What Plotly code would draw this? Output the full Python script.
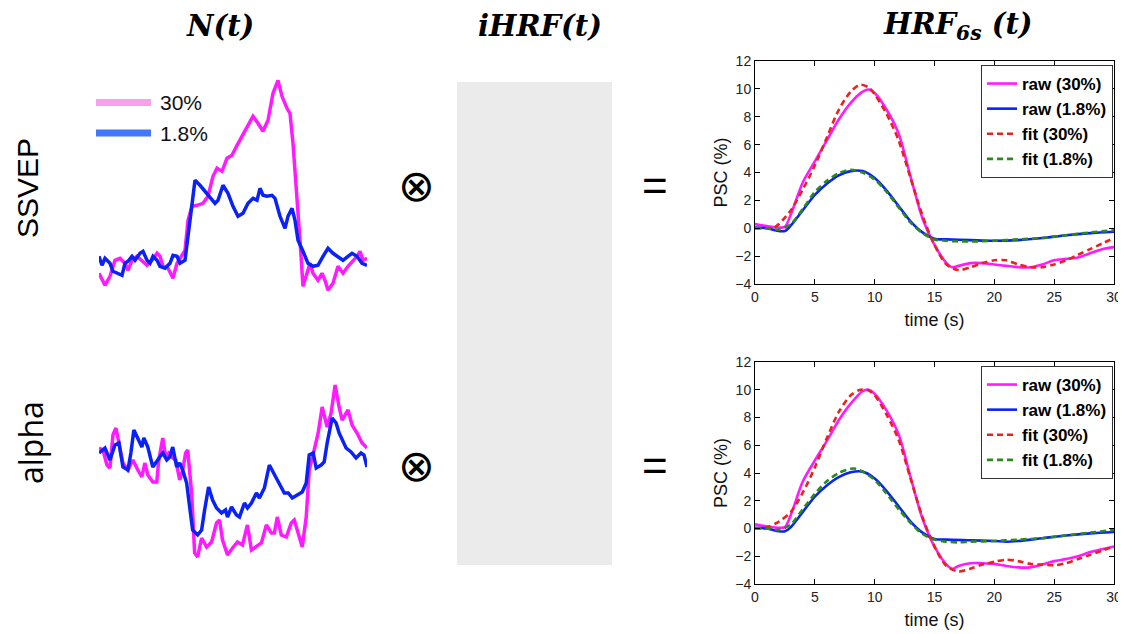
import plotly.graph_objects as go

W, H = 1126, 634

# ---------------- N(t) traces (relative amplitude, a.u.) ----------------
ssvep_t_30 = [0, 6, 11, 16, 21, 26, 29, 33, 38, 43, 48, 53, 58, 61, 64, 69, 74, 78, 83, 86, 89, 93, 98, 104,
              109, 114, 118, 123, 128, 133, 138, 143, 149, 154, 159, 164, 169, 174, 179, 183, 188, 191, 194,
              198, 201, 204, 208, 211, 214, 219, 223, 226, 229, 234, 239, 244, 249, 254, 258, 261, 264, 268]
ssvep_a_30 = [20, 8, 17, 33, 35, 30, 23, 33, 37, 32, 28, 33, 40, 37, 27, 25, 15, 30, 38, 43, 73, 87, 88, 90,
              97, 117, 125, 122, 135, 138, 148, 157, 167, 177, 170, 162, 173, 200, 213, 197, 185, 180, 150,
              100, 53, 7, 20, 30, 20, 13, 20, 13, 3, 10, 27, 20, 27, 33, 37, 42, 33, 35]
ssvep_t_18 = [0, 3, 6, 11, 14, 19, 23, 26, 29, 33, 36, 41, 44, 48, 51, 54, 58, 61, 66, 71, 74, 78, 81, 86,
              89, 93, 96, 101, 106, 111, 116, 119, 124, 129, 134, 139, 144, 149, 154, 158, 161, 164, 168,
              173, 176, 181, 186, 189, 193, 196, 199, 204, 209, 214, 219, 224, 229, 234, 239, 244, 249,
              253, 258, 263, 268]
ssvep_a_18 = [37, 28, 35, 30, 22, 20, 18, 30, 32, 37, 33, 40, 42, 33, 30, 37, 33, 27, 25, 30, 38, 37, 30, 33,
              57, 93, 113, 108, 102, 95, 90, 93, 108, 100, 87, 77, 80, 90, 95, 93, 105, 98, 97,
              98, 95, 77, 65, 77, 85, 73, 53, 42, 30, 27, 28, 37, 45, 40, 37, 33, 37,
              40, 37, 30, 28]

alpha_t_30 = [0, 4, 8, 11, 14, 17, 20, 24, 29, 34, 39, 43, 46, 49, 54, 58, 60, 64, 67, 70, 74, 77, 81, 84,
              87, 89, 93, 96, 99, 103, 108, 113, 118, 121, 124, 129, 134, 139, 144, 149, 153, 158, 163,
              168, 173, 176, 179, 183, 188, 193, 196, 199, 204, 208, 211, 216, 220, 224, 229, 233, 237,
              241, 244, 250, 254, 259, 264, 269]
alpha_a_30 = [112, 110, 95, 92, 125, 132, 117, 97, 90, 100, 90, 83, 97, 85, 78, 78, 100, 122, 103, 107, 102,
              100, 80, 90, 107, 110, 67, 7, 3, 22, 13, 18, 37, 40, 20, 5, 12, 18, 15, 35, 10, 13, 17,
              35, 27, 27, 43, 25, 23, 37, 40, 30, 13, 43, 90, 110, 127, 153, 133, 147, 175,
              153, 140, 150, 135, 127, 117, 112]
alpha_t_18 = [0, 6, 11, 16, 20, 24, 29, 32, 35, 39, 43, 45, 49, 54, 58, 61, 64, 68, 71, 74, 78, 81, 84, 88,
              91, 94, 99, 103, 106, 110, 114, 118, 123, 127, 129, 133, 138, 141, 146, 149, 153, 158, 161,
              166, 171, 174, 179, 186, 190, 194, 199, 204, 208, 211, 215, 218, 223, 226, 229, 234, 238,
              241, 248, 253, 258, 263, 266, 269]
alpha_a_18 = [107, 112, 100, 115, 117, 93, 90, 107, 130, 122, 113, 122, 113, 93, 98, 103, 107, 100, 103, 113,
              93, 97, 90, 77, 53, 30, 25, 30, 50, 73, 60, 52, 47, 50, 43, 53, 45, 43, 57, 52, 57, 67, 62,
              72, 95, 90, 80, 67, 67, 62, 65, 68, 77, 105, 107, 92, 95, 98, 117, 142, 137,
              127, 112, 108, 102, 107, 105, 93]

# ---------------- HRF_6s curves (PSC %, time s) ----------------
top_raw30_t = [0, 1, 2, 2.5, 3, 4, 5, 6, 7, 8, 9, 9.5, 10, 11, 12, 13, 14, 15, 16, 16.5, 17, 18, 19, 20, 21,
               22, 23, 24, 25, 26, 27, 28, 29, 30]
top_raw30_y = [0.3, 0.15, 0.05, 0.1, 1.0, 3.3, 4.8, 6.3, 7.8, 9.0, 9.8, 9.95, 9.7, 8.5, 6.8, 3.7, 0.7, -1.2,
               -2.5, -2.8, -2.7, -2.5, -2.5, -2.6, -2.7, -2.8, -2.8, -2.6, -2.3, -2.2, -2.1, -1.8, -1.5, -1.35]
top_fit30_t = [0, 1, 1.5, 2, 3, 4, 5, 6, 7, 8, 8.8, 9.5, 10, 11, 12, 13, 14, 15, 16, 17, 18, 19, 20, 21, 22,
               23, 24, 25, 26, 27, 28, 29, 30]
top_fit30_y = [0, 0, 0, 0.3, 1.3, 2.8, 4.5, 6.5, 8.5, 9.8, 10.3, 10.1, 9.6, 8.2, 6.3, 3.6, 0.9, -1.2, -2.6,
               -3.0, -2.8, -2.5, -2.3, -2.3, -2.6, -2.8, -2.8, -2.6, -2.3, -1.9, -1.5, -1.1, -0.7]
top_raw18_t = [0, 1, 2, 2.5, 3, 4, 5, 6, 7, 8, 9, 10, 11, 12, 13, 14, 15, 16, 18, 20, 22, 24, 26, 28, 30]
top_raw18_y = [0.05, 0.0, -0.2, -0.2, 0.2, 1.3, 2.4, 3.2, 3.8, 4.1, 4.1, 3.6, 2.7, 1.6, 0.5, -0.3, -0.75,
               -0.8, -0.85, -0.9, -0.85, -0.7, -0.5, -0.35, -0.25]
top_fit18_t = [0, 1, 2, 3, 4, 5, 6, 7, 8, 9, 10, 11, 12, 13, 14, 15, 16, 18, 20, 22, 24, 26, 28, 30]
top_fit18_y = [0, 0, -0.1, 0.3, 1.4, 2.6, 3.4, 3.95, 4.2, 4.0, 3.5, 2.6, 1.5, 0.4, -0.35, -0.8, -0.9, -0.95,
               -0.9, -0.8, -0.7, -0.5, -0.3, -0.15]

bot_raw30_t = top_raw30_t
bot_raw30_y = [0.3, 0.15, 0.05, 0.1, 1.0, 3.4, 4.9, 6.3, 7.8, 9.0, 9.9, 10.0, 9.7, 8.5, 6.8, 3.7, 0.7, -1.3,
               -2.6, -2.9, -2.7, -2.5, -2.5, -2.55, -2.7, -2.8, -2.8, -2.6, -2.35, -2.2, -2.0, -1.7, -1.5, -1.3]
bot_fit30_t = [0, 1, 2, 3, 4, 5, 6, 7, 8, 8.8, 9.5, 10, 11, 12, 13, 14, 15, 16, 17, 18, 19, 20, 21, 22, 23,
               24, 25, 26, 27, 28, 29, 30]
bot_fit30_y = [0, 0.1, 0.5, 1.2, 2.6, 4.4, 6.5, 8.4, 9.6, 10.0, 9.95, 9.6, 8.2, 6.4, 3.6, 0.8, -1.3, -2.7,
               -3.1, -2.9, -2.6, -2.4, -2.25, -2.35, -2.55, -2.6, -2.65, -2.5, -2.2, -1.9, -1.6, -1.3]
bot_raw18_t = [0, 1, 2, 2.5, 3, 4, 5, 6, 7, 8, 9, 10, 11, 12, 13, 14, 15, 16, 18, 20, 21, 22, 24, 26, 28, 30]
bot_raw18_y = [0.05, 0, -0.2, -0.2, 0.1, 1.2, 2.3, 3.1, 3.7, 4.05, 4.1, 3.6, 2.7, 1.6, 0.5, -0.3, -0.75,
               -0.8, -0.85, -0.9, -0.95, -0.9, -0.7, -0.5, -0.35, -0.25]
bot_fit18_t = [0, 1, 2, 3, 4, 5, 6, 7, 8, 8.5, 9, 10, 11, 12, 13, 14, 15, 16, 17, 18, 20, 22, 24, 26, 28, 30]
bot_fit18_y = [0, 0, -0.1, 0.3, 1.4, 2.5, 3.4, 4.0, 4.3, 4.3, 4.1, 3.5, 2.5, 1.4, 0.4, -0.4, -0.8, -0.95,
               -1.0, -0.95, -0.9, -0.8, -0.7, -0.5, -0.3, -0.1]

x_ticks = [0, 5, 10, 15, 20, 25, 30]
y_ticks = [-4, -2, 0, 2, 4, 6, 8, 10, 12]
legend_names = ["raw (30%)", "raw (1.8%)", "fit (30%)", "fit (1.8%)"]
n_legend_labels = ["30%", "1.8%"]
col_titles = ["<b><i>N(t)</i></b>", "<b><i>iHRF(t)</i></b>", "<b><i>HRF<sub>6s</sub> (t)</i></b>"]
row_labels = ["SSVEP", "alpha"]

MAG, BLU, RED, GRN = "#ff1aff", "#0a22f5", "#e8231a", "#2a8a1c"

OFF = 8  # page body margin in the browser


def px(x):
    return (x - OFF) / W


def py(y):
    return 1 - (y - OFF) / H


fig = go.Figure()

# N(t) panels
for t, a, c, ax in [(ssvep_t_30, ssvep_a_30, MAG, ""), (ssvep_t_18, ssvep_a_18, BLU, ""),
                    (alpha_t_30, alpha_a_30, MAG, "2"), (alpha_t_18, alpha_a_18, BLU, "2")]:
    fig.add_trace(go.Scatter(x=t, y=a, mode="lines", line=dict(color=c, width=3.5),
                             xaxis="x" + ax, yaxis="y" + ax, showlegend=False, hoverinfo="skip"))

# HRF panels
hrf_sets = [
    ("3", "legend", [(top_raw30_t, top_raw30_y), (top_raw18_t, top_raw18_y),
                     (top_fit30_t, top_fit30_y), (top_fit18_t, top_fit18_y)]),
    ("4", "legend2", [(bot_raw30_t, bot_raw30_y), (bot_raw18_t, bot_raw18_y),
                      (bot_fit30_t, bot_fit30_y), (bot_fit18_t, bot_fit18_y)]),
]
styles = [(MAG, "solid"), (BLU, "solid"), (RED, "6px,4px"), (GRN, "6px,4px")]
for ax, leg, series in hrf_sets:
    for i, ((t, y), (c, d)) in enumerate(zip(series, styles)):
        fig.add_trace(go.Scatter(x=t, y=y, mode="lines", name=legend_names[i],
                                 line=dict(color=c, width=2.6, dash=d, shape="spline", smoothing=0.8),
                                 xaxis="x" + ax, yaxis="y" + ax, legend=leg))

hidden = dict(visible=False, showgrid=False, zeroline=False, fixedrange=True)
axfont = dict(family="Liberation Sans, Arial, sans-serif", size=14, color="#222")
titlefont = dict(family="Liberation Sans, Arial, sans-serif", size=18, color="#111")


def hrf_x(dom, anchor):
    return dict(domain=dom, anchor=anchor, range=[0, 30], tickvals=x_ticks, ticks="inside", ticklen=5,
                tickcolor="black", showline=True, linecolor="black", linewidth=1, mirror="ticks",
                showgrid=False, zeroline=False, tickfont=axfont, automargin=False,
                title=dict(text="time (s)", font=titlefont, standoff=9))


def hrf_y(dom, anchor):
    return dict(domain=dom, anchor=anchor, range=[-4, 12], tickvals=y_ticks, ticks="inside", ticklen=5,
                tickcolor="black", showline=True, linecolor="black", linewidth=1, mirror="ticks",
                showgrid=False, zeroline=False, tickfont=axfont, automargin=False,
                title=dict(text="PSC (%)", font=titlefont, standoff=2))


legfont = dict(family="Liberation Sans, Arial, sans-serif", size=17, color="black", weight="bold")
legbase = dict(xref="paper", yref="paper", xanchor="right", yanchor="top", bgcolor="white",
               bordercolor="#333", borderwidth=1, font=legfont, tracegroupgap=0)

fig.update_layout(
    width=W, height=H, margin=dict(l=0, r=0, t=0, b=0, pad=0, autoexpand=False),
    paper_bgcolor="white", plot_bgcolor="white",
    xaxis=dict(domain=[px(99), px(367)], range=[0, 268], anchor="y", **hidden),
    yaxis=dict(domain=[py(293.3), py(53.3)], range=[0, 240], anchor="x", **hidden),
    xaxis2=dict(domain=[px(99), px(367)], range=[0, 269], anchor="y2", **hidden),
    yaxis2=dict(domain=[py(560), py(360)], range=[0, 200], anchor="x2", **hidden),
    xaxis3=hrf_x([px(755), px(1114)], "y3"),
    yaxis3=hrf_y([py(284), py(61)], "x3"),
    xaxis4=hrf_x([px(755), px(1114)], "y4"),
    yaxis4=hrf_y([py(584), py(362)], "x4"),
    legend=dict(x=px(1113), y=py(65), **legbase),
    legend2=dict(x=px(1113), y=py(366), **legbase),
    showlegend=True,
)

# gray iHRF placeholder
fig.add_shape(type="rect", xref="paper", yref="paper", x0=px(457), x1=px(612), y0=py(565), y1=py(82),
              fillcolor="#ebebeb", line=dict(width=0), layer="below")

# left legend keys
for (yy, c, lab) in [(102.5, "#f7a0ec", n_legend_labels[0]), (133, "#4477ff", n_legend_labels[1])]:
    fig.add_shape(type="line", xref="paper", yref="paper", x0=px(96), x1=px(151), y0=py(yy), y1=py(yy),
                  line=dict(color=c, width=7))
    fig.add_annotation(text=lab, xref="paper", yref="paper", x=px(158), y=py(yy), xanchor="left",
                       yanchor="middle", showarrow=False,
                       font=dict(family="Liberation Sans, Arial, sans-serif", size=21, color="#111"))

# column titles
for txt, xc in zip(col_titles, [220, 540, 958]):
    fig.add_annotation(text=txt, xref="paper", yref="paper", x=px(xc), y=py(26), xanchor="center",
                       yanchor="middle", showarrow=False,
                       font=dict(family="DejaVu Serif, serif", size=29, color="black"))

# row labels
fig.add_annotation(text=row_labels[0], xref="paper", yref="paper", x=px(27), y=py(188), textangle=-90,
                   showarrow=False, xanchor="center", yanchor="middle",
                   font=dict(family="Liberation Sans, Arial, sans-serif", size=30, color="black"))
fig.add_annotation(text=row_labels[1], xref="paper", yref="paper", x=px(31), y=py(443), textangle=-90,
                   showarrow=False, xanchor="center", yanchor="middle",
                   font=dict(family="Open Sans, sans-serif", size=32, color="black"))

# operators
for yc in [185, 466]:
    fig.add_annotation(text="⊗", xref="paper", yref="paper", x=px(416), y=py(yc), showarrow=False,
                       xanchor="center", yanchor="middle",
                       font=dict(family="DejaVu Sans, sans-serif", size=44, color="black"))
    fig.add_annotation(text="=", xref="paper", yref="paper", x=px(655), y=py(yc), showarrow=False,
                       xanchor="center", yanchor="middle",
                       font=dict(family="Liberation Sans, Arial, sans-serif", size=44, color="black"))

fig.write_html("out.html")
